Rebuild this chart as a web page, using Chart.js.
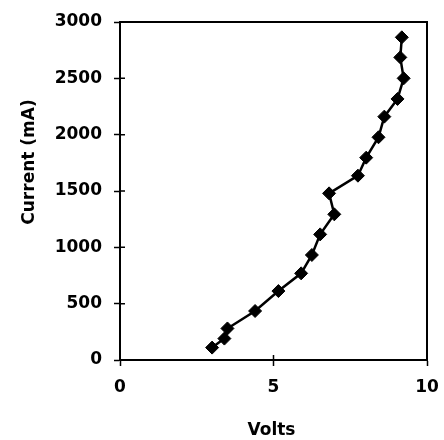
<!DOCTYPE html>
<html>
<head>
<meta charset="utf-8">
<script src="https://cdn.jsdelivr.net/npm/chart.js@4/dist/chart.umd.min.js"></script>
<style>
html,body{margin:0;padding:0;background:#fff;}
#wrap{width:444px;height:440px;}
</style>
</head>
<body>
<div id="wrap"><canvas id="c" width="444" height="440"></canvas></div>
<script>
const volts = [3.0, 3.4, 3.5, 4.4, 5.16, 5.9, 6.25, 6.52, 6.98, 6.81, 7.75, 8.02, 8.42, 8.61, 9.04, 9.24, 9.13, 9.18];
const currentMA = [110, 190, 280, 435, 612, 769, 932, 1115, 1293, 1479, 1636, 1796, 1977, 2160, 2317, 2500, 2686, 2864];
const xTicks = [0, 5, 10];
const yTicks = [0, 500, 1000, 1500, 2000, 2500, 3000];
const xTitle = 'Volts';
const yTitle = 'Current (mA)';

const FONT = "'DejaVu Sans', sans-serif";

const framePlugin = {
  id: 'frame',
  afterDraw(chart) {
    const {ctx, chartArea: a, scales} = chart;
    ctx.save();
    ctx.strokeStyle = '#000';
    ctx.lineWidth = 2;
    ctx.strokeRect(a.left, a.top, a.right - a.left, a.bottom - a.top);
    ctx.lineWidth = 1.5;
    ctx.beginPath();
    yTicks.forEach(v => {
      const y = scales.y.getPixelForValue(v);
      ctx.moveTo(a.left, y); ctx.lineTo(a.left + 5, y);
    });
    xTicks.forEach(v => {
      const x = scales.x.getPixelForValue(v);
      ctx.moveTo(x, a.bottom); ctx.lineTo(x, a.bottom - 5);
    });
    ctx.stroke();
    ctx.fillStyle = '#000';
    ctx.font = "bold 17px " + FONT;
    ctx.textAlign = 'center';
    ctx.textBaseline = 'middle';
    ctx.fillText(xTitle, (a.left + a.right) / 2 - 2, 431);
    ctx.translate(29.5, 162);
    ctx.rotate(-Math.PI / 2);
    ctx.fillText(yTitle, 0, 0);
    ctx.restore();
  }
};

new Chart(document.getElementById('c'), {
  type: 'scatter',
  data: {
    datasets: [{
      data: volts.map((v, i) => ({x: v, y: currentMA[i]})),
      showLine: true,
      borderColor: '#000',
      borderWidth: 2.5,
      backgroundColor: '#000',
      pointStyle: 'rectRot',
      pointRadius: 6.5,
      pointHoverRadius: 6.5,
      pointBorderWidth: 1,
      pointBorderColor: '#000',
      pointBackgroundColor: '#000'
    }]
  },
  options: {
    responsive: false,
    animation: false,
    devicePixelRatio: 1,
    layout: {padding: {top: 22, right: 17, left: 0, bottom: 0}},
    plugins: {legend: {display: false}, tooltip: {enabled: false}},
    scales: {
      x: {
        type: 'linear',
        min: 0, max: 10,
        afterBuildTicks: s => { s.ticks = xTicks.map(v => ({value: v})); },
        afterFit: s => { s.height = 80; s.paddingRight = 0; s.paddingLeft = 0; },
        grid: {drawOnChartArea: false, color: '#000', tickLength: 6, tickWidth: 1.5},
        border: {color: '#000', width: 2},
        ticks: {color: '#000', font: {family: FONT, size: 17, weight: 'bold'}, padding: 11, maxRotation: 0,
                callback: v => String(v)}
      },
      y: {
        type: 'linear',
        min: 0, max: 3000,
        afterBuildTicks: s => { s.ticks = yTicks.map(v => ({value: v})); },
        afterFit: s => { s.width = 120; s.paddingTop = 0; s.paddingBottom = 0; },
        grid: {drawOnChartArea: false, color: '#000', tickLength: 6, tickWidth: 1.5},
        border: {color: '#000', width: 2},
        ticks: {color: '#000', font: {family: FONT, size: 17, weight: 'bold'}, padding: 12,
                callback: v => String(v)}
      }
    }
  },
  plugins: [framePlugin]
});
</script>
</body>
</html>
